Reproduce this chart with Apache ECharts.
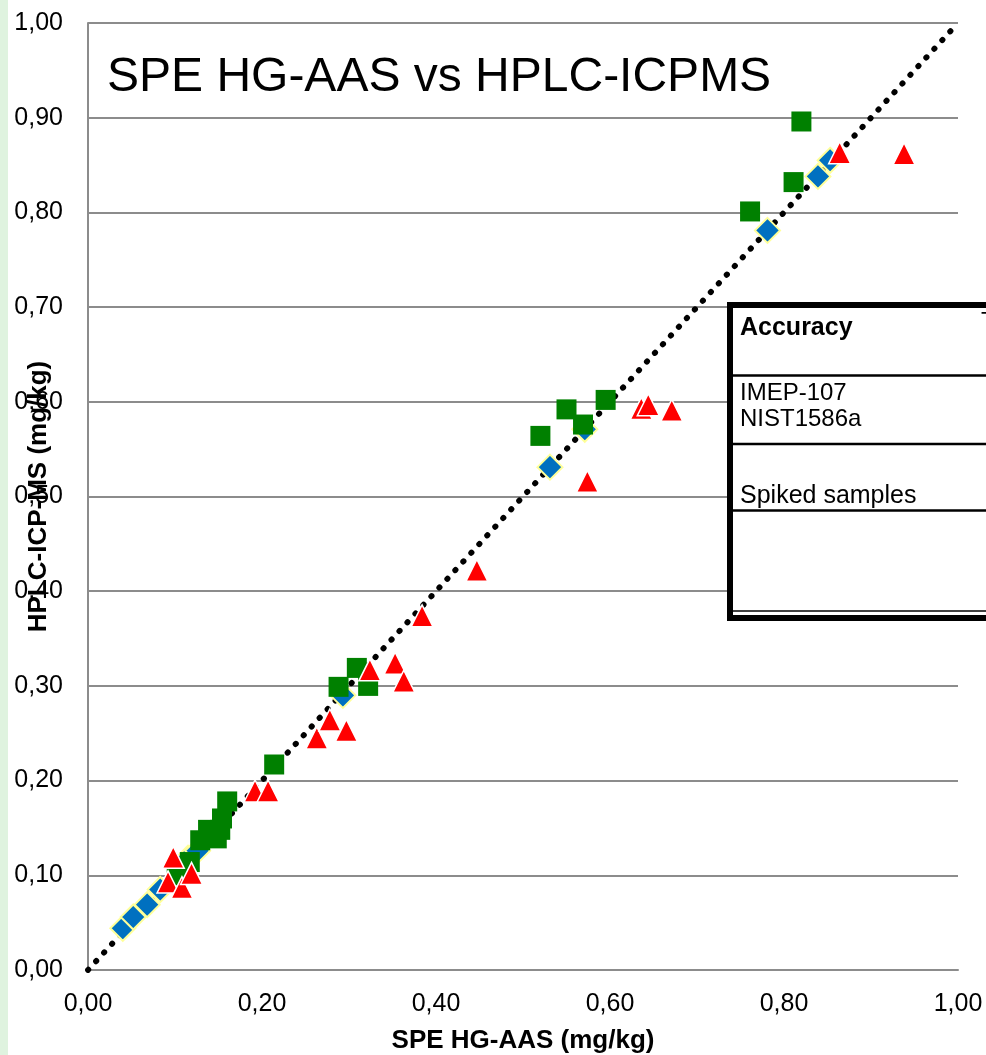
<!DOCTYPE html>
<html>
<head>
<meta charset="utf-8">
<script src="https://cdn.jsdelivr.net/npm/echarts@6/dist/echarts.min.js"></script>
<style>
  * { margin: 0; padding: 0; }
  body { background: #fff; }
  #chart-container { width: 986px; height: 1055px; }
</style>
</head>
<body>
<div id="chart-container"></div>
<script>
  // reference materials (blue diamonds)
  var blueX = [0.040, 0.052, 0.068, 0.083, 0.115, 0.126, 0.293, 0.531, 0.571, 0.781, 0.839, 0.853]
  var blueY = [0.044, 0.056, 0.069, 0.085, 0.118, 0.126, 0.290, 0.531, 0.571, 0.781, 0.838, 0.855]
  // green squares
  var greenX = [0.102, 0.117, 0.129, 0.138, 0.148, 0.152, 0.154, 0.160, 0.214, 0.288, 0.309, 0.322, 0.520, 0.550, 0.569, 0.595, 0.761, 0.811, 0.820]
  var greenY = [0.100, 0.114, 0.137, 0.148, 0.139, 0.148, 0.160, 0.178, 0.217, 0.299, 0.319, 0.300, 0.564, 0.592, 0.576, 0.602, 0.801, 0.832, 0.896]
  // red triangles
  var redX = [0.098, 0.092, 0.108, 0.119, 0.192, 0.207, 0.263, 0.278, 0.297, 0.324, 0.353, 0.363, 0.384, 0.447, 0.574, 0.636, 0.644, 0.671, 0.864, 0.938]
  var redY = [0.119, 0.093, 0.087, 0.102, 0.189, 0.189, 0.245, 0.264, 0.253, 0.317, 0.324, 0.305, 0.374, 0.422, 0.516, 0.593, 0.597, 0.591, 0.863, 0.862]
  // 1:1 line
  var lineX = [0, 1]
  var lineY = [0, 1]

  var tableRows = ['IMEP-107', 'NIST1586a', 'Spiked samples']

  function pairs(xs, ys) {
    return xs.map(function (x, i) { return [x, ys[i]] })
  }
  function fmt(v) {
    return v.toFixed(2).replace('.', ',')
  }

  var font = 'Liberation Sans, Arial, sans-serif'
  var myChart = echarts.init(document.getElementById('chart-container'), null, { renderer: 'canvas' })

  var option = {
    animation: false,
    backgroundColor: '#fff',
    grid: { left: 88, right: 28, top: 23, bottom: 85, containLabel: false, outerBoundsMode: 'none' },
    xAxis: {
      type: 'value', min: 0, max: 1, interval: 0.2,
      name: 'SPE HG-AAS (mg/kg)', nameLocation: 'middle', nameGap: 58, nameMoveOverlap: false,
      nameTextStyle: { fontFamily: font, fontSize: 26, fontWeight: 'bold', color: '#000' },
      axisLine: { show: true, lineStyle: { color: '#8c8c8c', width: 2 } },
      axisTick: { show: false },
      splitLine: { show: false },
      axisLabel: { formatter: fmt, fontFamily: font, fontSize: 25, color: '#000', margin: 22 }
    },
    yAxis: {
      type: 'value', min: 0, max: 1, interval: 0.1,
      name: 'HPLC-ICP-MS (mg/kg)', nameLocation: 'middle', nameGap: 36, nameMoveOverlap: false,
      nameTextStyle: { fontFamily: font, fontSize: 26, fontWeight: 'bold', color: '#000' },
      axisLine: { show: true, lineStyle: { color: '#8c8c8c', width: 2 } },
      axisTick: { show: false },
      splitLine: { lineStyle: { color: '#8c8c8c', width: 2 } },
      axisLabel: { formatter: fmt, fontFamily: font, fontSize: 25, color: '#000', margin: 25 }
    },
    series: [
      {
        type: 'line', data: pairs(lineX, lineY), symbol: 'none', silent: true, z: 1,
        lineStyle: { color: '#000', width: 5.8, type: [0.5, 11.3], cap: 'round' }
      },
      {
        type: 'scatter', data: pairs(blueX, blueY), symbol: 'diamond', symbolSize: 25, z: 3,
        itemStyle: { color: '#0070c0', borderColor: '#ffff99', borderWidth: 2, opacity: 1 }
      },
      {
        type: 'scatter', data: pairs(greenX, greenY), symbol: 'rect', symbolSize: 20, z: 4,
        itemStyle: { color: '#008000', opacity: 1 }
      },
      {
        type: 'scatter', data: pairs(redX, redY), symbol: 'triangle', symbolSize: 22, z: 5,
        itemStyle: { color: '#ff0000', borderColor: '#fff', borderWidth: 1.5, opacity: 1 }
      }
    ],
    graphic: [
      { type: 'rect', left: 0, top: 0, shape: { width: 8, height: 1055 }, style: { fill: '#dff3df' }, z: 100 },
      {
        type: 'text', left: 107, top: 54, z: 100,
        style: { text: 'SPE HG-AAS vs HPLC-ICPMS', font: '48px ' + font, fill: '#000' }
      },
      // accuracy table (cut off at the right edge)
      { type: 'rect', shape: { x: 730, y: 305, width: 300, height: 313 }, style: { fill: '#fff', stroke: '#000', lineWidth: 6 }, z: 100 },
      { type: 'line', shape: { x1: 733, y1: 375.5, x2: 986, y2: 375.5 }, style: { stroke: '#000', lineWidth: 2.5 }, z: 101 },
      { type: 'line', shape: { x1: 733, y1: 444, x2: 986, y2: 444 }, style: { stroke: '#000', lineWidth: 2.5 }, z: 101 },
      { type: 'line', shape: { x1: 733, y1: 510.5, x2: 986, y2: 510.5 }, style: { stroke: '#000', lineWidth: 2.5 }, z: 101 },
      { type: 'line', shape: { x1: 733, y1: 611, x2: 986, y2: 611 }, style: { stroke: '#000', lineWidth: 1.5 }, z: 101 },
      {
        type: 'text', x: 740, y: 328, z: 102,
        style: { text: 'Accuracy', font: 'bold 25px ' + font, fill: '#000', verticalAlign: 'middle' }
      },
      {
        type: 'text', x: 981, y: 322, z: 102,
        style: { text: 'T', font: '24px ' + font, fill: '#000', verticalAlign: 'middle' }
      },
      {
        type: 'text', x: 740, y: 393, z: 102,
        style: { text: tableRows[0], font: '24px ' + font, fill: '#000', verticalAlign: 'middle' }
      },
      {
        type: 'text', x: 740, y: 419, z: 102,
        style: { text: tableRows[1], font: '24px ' + font, fill: '#000', verticalAlign: 'middle' }
      },
      {
        type: 'text', x: 740, y: 496, z: 102,
        style: { text: tableRows[2], font: '25px ' + font, fill: '#000', verticalAlign: 'middle' }
      }
    ]
  }

  myChart.setOption(option)
  window.addEventListener('resize', myChart.resize)
</script>
</body>
</html>
